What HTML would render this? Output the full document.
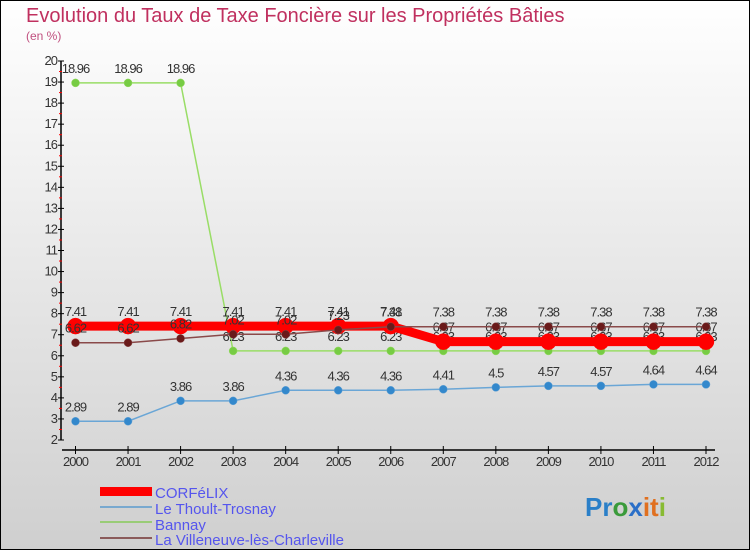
<!DOCTYPE html>
<html><head><meta charset="utf-8"><style>
body{margin:0;}
svg{display:block;font-family:"Liberation Sans","DejaVu Sans",sans-serif;}
</style></head><body>
<svg width="750" height="550" viewBox="0 0 750 550">
<defs><linearGradient id="bg" x1="0" y1="0" x2="0" y2="1"><stop offset="0" stop-color="#ffffff"/><stop offset="1" stop-color="#cfcfcf"/></linearGradient></defs>
<rect x="0.5" y="0.5" width="749" height="549" fill="url(#bg)" stroke="#000"/>
<text x="26" y="22" font-size="20" fill="#c0305f">Evolution du Taux de Taxe Foncière sur les Propriétés Bâties</text>
<text x="26" y="40" font-size="12" fill="#c0507f">(en %)</text>
<g id="axes"></g>
<g id="series"></g>
<g>
<rect x="100" y="487" width="52" height="9" fill="#ff0000"/>
<text x="155" y="498" font-size="15" fill="#5555ee">CORFéLIX</text>
<rect x="100" y="506" width="52" height="2" fill="#79a9cf"/>
<text x="155" y="514" font-size="15" fill="#5555ee">Le Thoult-Trosnay</text>
<rect x="100" y="521" width="52" height="2" fill="#99cc77"/>
<text x="155" y="530" font-size="15" fill="#5555ee">Bannay</text>
<rect x="100" y="537" width="52" height="2" fill="#8a5a5a"/>
<text x="155" y="545" font-size="15" fill="#5555ee">La Villeneuve-lès-Charleville</text>
</g>
<text x="585" y="516" font-size="26" font-weight="bold"><tspan fill="#2a7fc8">Pr</tspan><tspan fill="#3a9a3a">o</tspan><tspan fill="#2a6fc8">x</tspan><tspan fill="#e07020">it</tspan><tspan fill="#88bb33">i</tspan></text>
</svg>
<script>
const years=[2000,2001,2002,2003,2004,2005,2006,2007,2008,2009,2010,2011,2012];
const yTicks=[2,3,4,5,6,7,8,9,10,11,12,13,14,15,16,17,18,19,20];
const corfelix=[7.41,7.41,7.41,7.41,7.41,7.41,7.41,6.67,6.67,6.67,6.67,6.67,6.67];
const thoult=[2.89,2.89,3.86,3.86,4.36,4.36,4.36,4.41,4.5,4.57,4.57,4.64,4.64];
const bannay=[18.96,18.96,18.96,6.23,6.23,6.23,6.23,6.23,6.23,6.23,6.23,6.23,6.23];
const villeneuve=[6.62,6.62,6.82,7.02,7.02,7.23,7.38,7.38,7.38,7.38,7.38,7.38,7.38];
const NS='http://www.w3.org/2000/svg';
const X=i=>75.5+i*(706-75.5)/(years.length-1);
const Y=v=>440-(v-2)*(379/18);
function mk(tag,attrs,parent,txt){const e=document.createElementNS(NS,tag);for(const k in attrs)e.setAttribute(k,attrs[k]);if(txt!==undefined)e.textContent=txt;parent.appendChild(e);return e;}
const ax=document.getElementById('axes');
let l=mk('line',{x1:61,y1:61,x2:61,y2:440,stroke:'#000','stroke-width':1.5},ax);


yTicks.forEach(v=>{
 let t=mk('line',{x1:58,x2:64,y1:Y(v),y2:Y(v),stroke:'#000'},ax);
 
 
 if(v<20){let m=mk('line',{x1:59,x2:62,y1:Y(v+0.5),y2:Y(v+0.5),stroke:'#f00'},ax);
 
 }
 let tx=mk('text',{x:57,y:Y(v)+4,'font-size':13,'text-anchor':'end',fill:'#333','letter-spacing':'-1'},ax,String(v));
 
 
});
l=mk('line',{x1:62,y1:450,x2:715,y2:450,stroke:'#000','stroke-width':1.5},ax);


years.forEach((y,i)=>{
 let t=mk('line',{x1:X(i),x2:X(i),y1:446,y2:454,stroke:'#000'},ax);
 
 
 let tx=mk('text',{x:X(i),y:466,'font-size':13,'text-anchor':'middle',fill:'#333','letter-spacing':'-1'},ax,String(y));
 
 
});
const sg=document.getElementById('series');
function draw(vals,name,color,w,r,fill){
 const g=mk('g',{},sg);
 
 
 const p=mk('polyline',{points:vals.map((v,i)=>X(i)+','+Y(v)).join(' '),fill:'none',stroke:color,'stroke-width':w},g);
 
 
 vals.forEach((v,i)=>{
  const c=mk('circle',{cx:X(i),cy:Y(v),r:r,fill:fill,stroke:color,'stroke-width':0.5},g);
  
  
  const t=mk('text',{x:X(i),y:Y(v)-10,'font-size':13,'text-anchor':'middle',fill:'#333','letter-spacing':'-1'},g,String(v));
  
  
 });
}
draw(bannay,'bannay','#99dd66',1.5,4,'#77cc44');
draw(thoult,'thoult','#6aa6d6',1.5,4,'#3388cc');
draw(corfelix,'corfelix','#ff0000',9,8,'#ff0000');
draw(villeneuve,'villeneuve','#8a4a4a',1.5,4,'#6a1a1a');
</script>
</body></html>
